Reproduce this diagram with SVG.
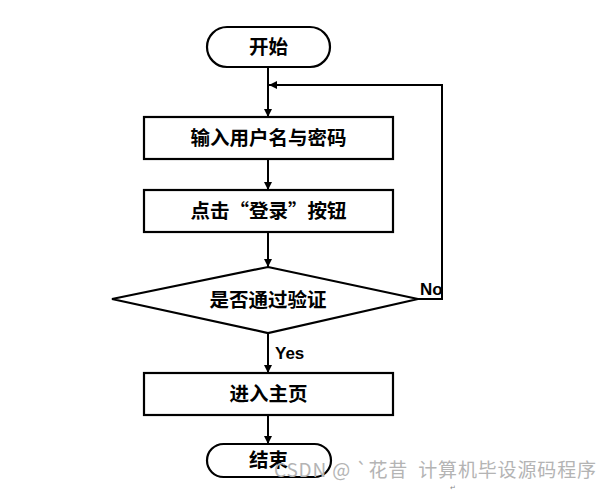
<svg xmlns="http://www.w3.org/2000/svg" width="612" height="492" viewBox="0 0 612 492">
<defs>
<marker id="arr" viewBox="0 0 10 10" refX="10" refY="5" markerWidth="4" markerHeight="4" orient="auto" markerUnits="strokeWidth">
<path d="M0,0 L10,5 L0,10 z" fill="#000"/>
</marker>
</defs>
<style>
.shape{fill:#fff;stroke:#000;stroke-width:2.2}
.lbl{font-family:"Noto Sans CJK SC","Noto Sans",sans-serif;font-weight:bold;font-size:19.5px;text-anchor:middle;fill:#000}
.edge{fill:none;stroke:#000;stroke-width:2}
.elbl{font-family:"Liberation Sans",Arial,sans-serif;font-weight:bold;font-size:17px;fill:#000}
.wm{font-family:"Noto Sans CJK SC","Noto Sans",sans-serif;font-size:19px;fill:#b4b4b4}
</style>
<rect width="612" height="492" fill="#fff"/>
<g id="connectors">
<line class="edge" x1="268" y1="67" x2="268" y2="117" marker-end="url(#arr)"/>
<line class="edge" x1="268" y1="159" x2="268" y2="190" marker-end="url(#arr)"/>
<line class="edge" x1="268" y1="232" x2="268" y2="267" marker-end="url(#arr)"/>
<line class="edge" x1="268" y1="333" x2="268" y2="373" marker-end="url(#arr)"/>
<line class="edge" x1="268" y1="415" x2="268" y2="444" marker-end="url(#arr)"/>
<polyline class="edge" points="418,299 442,299 442,85 269,85" marker-end="url(#arr)"/>
<text class="elbl" x="420" y="295">No</text>
<text class="elbl" x="275" y="359">Yes</text>
</g>
<g id="start">
<rect class="shape" x="207" y="27" width="123" height="40" rx="20" ry="20"/>
<text class="lbl" x="268.5" y="54">开始</text>
</g>
<g id="input">
<rect class="shape" x="144" y="117" width="249" height="42"/>
<text class="lbl" x="268.5" y="145">输入用户名与密码</text>
</g>
<g id="click">
<rect class="shape" x="144" y="190" width="249" height="42"/>
<text class="lbl" x="268.5" y="218">点击“登录”按钮</text>
</g>
<g id="decision">
<polygon class="shape" points="268,267 418,299 268,333 112,299"/>
<text class="lbl" x="268" y="307">是否通过验证</text>
</g>
<g id="home">
<rect class="shape" x="144" y="373" width="249" height="42"/>
<text class="lbl" x="268.5" y="401">进入主页</text>
</g>
<g id="end">
<rect class="shape" x="207" y="444" width="124" height="33" rx="16.5" ry="16.5"/>
<text class="lbl" x="268.5" y="467">结束</text>
</g>
<text class="wm" x="274" y="477" textLength="322" lengthAdjust="spacing" xml:space="preserve">CSDN @ `花昔  计算机毕设源码程序</text>
<text x="450" y="490" font-family="Noto Sans, sans-serif" font-size="7" fill="#888">↵</text>
</svg>
